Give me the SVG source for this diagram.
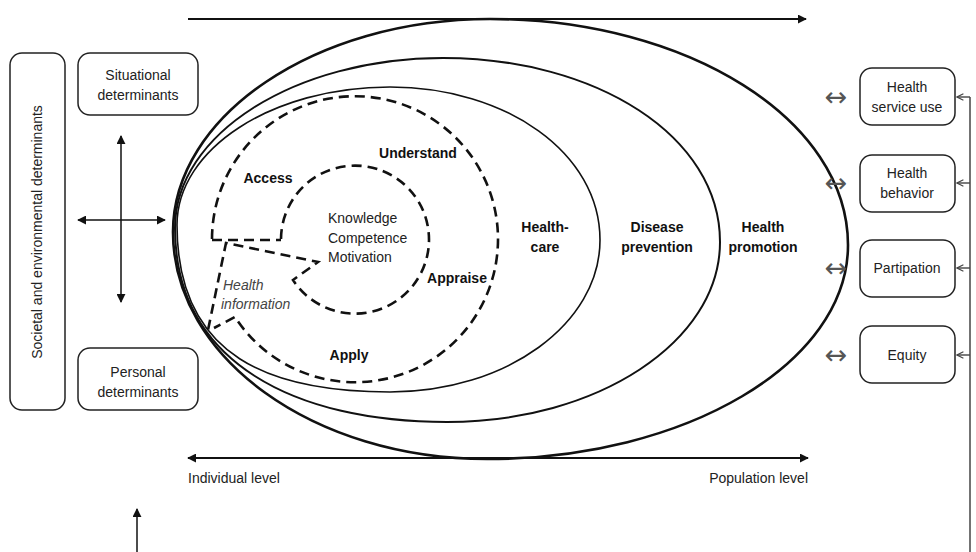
<svg xmlns="http://www.w3.org/2000/svg" width="976" height="552" viewBox="0 0 976 552">
<defs>
<style>
text{font-family:"Liberation Sans",Arial,sans-serif;fill:#222}
.t{font-size:14px}
.b{font-size:14px;font-weight:bold;fill:#111}
.it{font-size:14px;font-style:italic;fill:#444}
.box{fill:#fff;stroke:#222;stroke-width:1.5}
.ln{fill:none;stroke:#111}
.dash{fill:none;stroke:#111;stroke-width:2.6;stroke-dasharray:10 6}
.sym{font-family:"DejaVu Sans",sans-serif;font-size:27px;fill:#555}
</style>
<marker id="ah" viewBox="0 0 10 10" refX="9" refY="5" markerWidth="9" markerHeight="9" markerUnits="userSpaceOnUse" orient="auto-start-reverse">
<path d="M0,0 L10,5 L0,10 z" fill="#111"/>
</marker>
<marker id="ob" viewBox="0 0 10 10" refX="9" refY="5" markerWidth="8" markerHeight="8" markerUnits="userSpaceOnUse" orient="auto">
<path d="M1,1 L9,5 L1,9" fill="none" stroke="#444" stroke-width="1.4"/>
</marker>
</defs>
<rect width="976" height="552" fill="#fff"/>

<g id="ellipses">
<path id="outer" class="ln" stroke-width="2.6" d="M173,232 C173,116 315,19 490,19 C688,19 848,120 848,245 C848,363 686,459 487,459 C314,459 173,358 173,232 Z"/>
<path id="middle" class="ln" stroke-width="2" d="M175,228 C175,134 295,58 443,58 C596,58 720,136 720,242 C720,342 597,422 447,422 C297,422 175,364 175,228 Z"/>
<path id="inner" class="ln" stroke-width="1.6" d="M177,225 C177,149 272,87 390,87 C506,87 600,153 600,240 C600,324 506,392 390,392 C273,392 177,359 177,225 Z"/>
</g>

<g id="dashed">
<path class="dash" d="M212,239 A143,143 0 1 1 235,317 L214,328"/>
<path class="dash" d="M212,240 L281,240"/>
<path class="dash" d="M281,239 A74,74 0 1 1 293,280 L318,262 L226,243 L208,330"/>
</g>

<g id="labels">
<text class="b" x="545" y="232" text-anchor="middle">Health-</text>
<text class="b" x="545" y="252" text-anchor="middle">care</text>
<text class="b" x="657" y="232" text-anchor="middle">Disease</text>
<text class="b" x="657" y="252" text-anchor="middle">prevention</text>
<text class="b" x="763" y="232" text-anchor="middle">Health</text>
<text class="b" x="763" y="252" text-anchor="middle">promotion</text>
<text class="b" x="418" y="158" text-anchor="middle">Understand</text>
<text class="b" x="268" y="183" text-anchor="middle">Access</text>
<text class="b" x="457" y="283" text-anchor="middle">Appraise</text>
<text class="b" x="349" y="360" text-anchor="middle">Apply</text>
<text class="t" x="328" y="223">Knowledge</text>
<text class="t" x="328" y="243">Competence</text>
<text class="t" x="328" y="262">Motivation</text>
<text class="it" x="223" y="290">Health</text>
<text class="it" x="221" y="309">information</text>
</g>

<g id="societal">
<rect class="box" x="10" y="53" width="55" height="357" rx="12"/>
<text class="t" transform="translate(42,232) rotate(-90)" text-anchor="middle">Societal and environmental determinants</text>
</g>
<g id="situational">
<rect class="box" x="78" y="53" width="120" height="62" rx="12"/>
<text class="t" x="138" y="80" text-anchor="middle">Situational</text>
<text class="t" x="138" y="100" text-anchor="middle">determinants</text>
</g>
<g id="personal">
<rect class="box" x="78" y="348" width="120" height="62" rx="12"/>
<text class="t" x="138" y="377" text-anchor="middle">Personal</text>
<text class="t" x="138" y="397" text-anchor="middle">determinants</text>
</g>

<g id="service">
<rect class="box" x="860" y="68" width="95" height="57" rx="12"/>
<text class="t" x="907" y="92" text-anchor="middle">Health</text>
<text class="t" x="907" y="112" text-anchor="middle">service use</text>
</g>
<g id="behavior">
<rect class="box" x="860" y="155" width="95" height="57" rx="12"/>
<text class="t" x="907" y="178" text-anchor="middle">Health</text>
<text class="t" x="907" y="198" text-anchor="middle">behavior</text>
</g>
<g id="participation">
<rect class="box" x="860" y="240" width="95" height="57" rx="12"/>
<text class="t" x="907" y="273" text-anchor="middle">Partipation</text>
</g>
<g id="equity">
<rect class="box" x="860" y="326" width="95" height="57" rx="12"/>
<text class="t" x="907" y="360" text-anchor="middle">Equity</text>
</g>

<g id="connectors">
<line class="ln" stroke-width="2" x1="188" y1="19" x2="806" y2="19" marker-end="url(#ah)"/>
<line class="ln" stroke-width="2" x1="188" y1="458" x2="808" y2="458" marker-start="url(#ah)" marker-end="url(#ah)"/>
<line class="ln" stroke-width="1.5" x1="121" y1="136" x2="121" y2="302" marker-start="url(#ah)" marker-end="url(#ah)"/>
<line class="ln" stroke-width="1.5" x1="78" y1="220" x2="165" y2="220" marker-start="url(#ah)" marker-end="url(#ah)"/>
<line class="ln" stroke-width="1.5" x1="137" y1="552" x2="137" y2="509" marker-end="url(#ah)"/>
<line stroke="#444" stroke-width="1.5" x1="970" y1="97" x2="970" y2="552"/>
<line stroke="#444" stroke-width="1.4" x1="970" y1="97" x2="957" y2="97" marker-end="url(#ob)"/>
<line stroke="#444" stroke-width="1.4" x1="970" y1="183" x2="957" y2="183" marker-end="url(#ob)"/>
<line stroke="#444" stroke-width="1.4" x1="970" y1="268" x2="957" y2="268" marker-end="url(#ob)"/>
<line stroke="#444" stroke-width="1.4" x1="970" y1="355" x2="957" y2="355" marker-end="url(#ob)"/>
<text class="sym" x="836" y="106" text-anchor="middle">↔</text>
<text class="sym" x="836" y="192" text-anchor="middle">↔</text>
<text class="sym" x="836" y="277" text-anchor="middle">↔</text>
<text class="sym" x="836" y="364" text-anchor="middle">↔</text>
</g>

<g id="axis-labels">
<text class="t" x="188" y="483">Individual level</text>
<text class="t" x="808" y="483" text-anchor="end">Population level</text>
</g>
</svg>
